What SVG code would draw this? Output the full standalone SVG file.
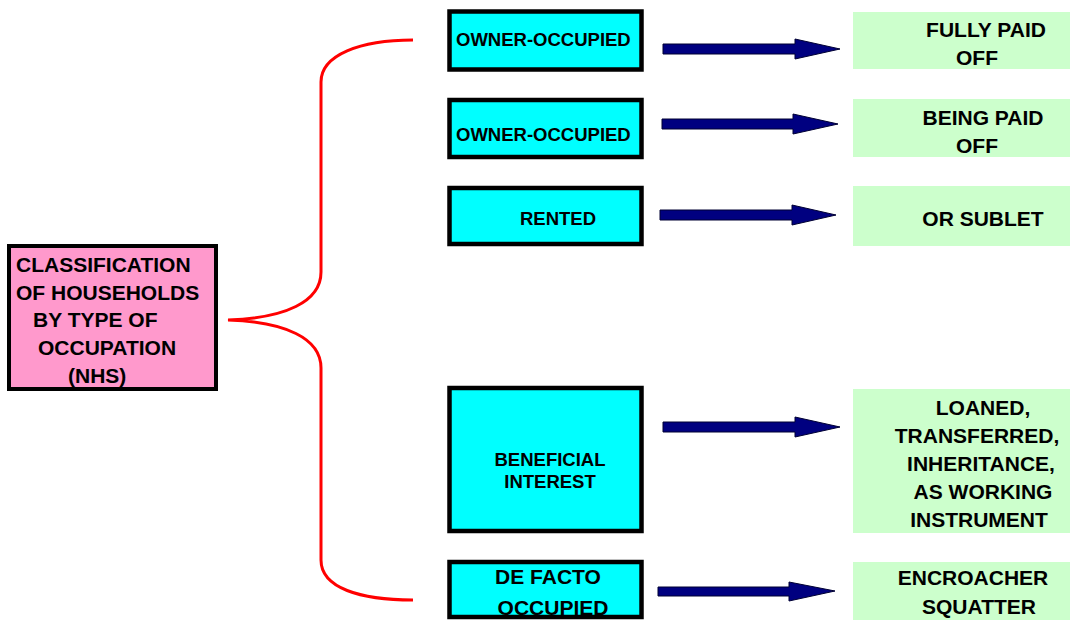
<svg xmlns="http://www.w3.org/2000/svg" width="1072" height="620" viewBox="0 0 1072 620">
<style>
text{font-family:"Liberation Sans",Arial,sans-serif;font-weight:bold;fill:#000}
.c{fill:#00FFFF;stroke:#000;stroke-width:4.5}
.g{fill:#CCFFCC}
.p{fill:#FF99CC;stroke:#000;stroke-width:4}
.a{fill:#000080;stroke:#000033;stroke-width:1}
.t18{font-size:18.5px}
.t20{font-size:21px}
.m{text-anchor:middle}
</style>
<rect width="1072" height="620" fill="#fff"/>
<g id="root">
<rect class="p" x="9" y="246" width="207" height="143"/>
<text class="t20" x="16" y="272">CLASSIFICATION</text>
<text class="t20" x="16" y="300">OF HOUSEHOLDS</text>
<text class="t20" x="33" y="327">BY TYPE OF</text>
<text class="t20" x="38" y="355">OCCUPATION</text>
<text class="t20" x="68" y="383">(NHS)</text>
</g>
<g id="owner1">
<rect class="c" x="449.5" y="11.5" width="192" height="58"/>
<text class="t18" x="456" y="46">OWNER-OCCUPIED</text>
</g>
<g id="owner2">
<rect class="c" x="449.5" y="100" width="192" height="57"/>
<text class="t18" x="456" y="141">OWNER-OCCUPIED</text>
</g>
<g id="rented">
<rect class="c" x="449.5" y="188" width="192" height="56"/>
<text class="t18 m" x="558" y="225">RENTED</text>
</g>
<g id="beneficial">
<rect class="c" x="449.5" y="388" width="192" height="143"/>
<text class="t18 m" x="550" y="466">BENEFICIAL</text>
<text class="t18 m" x="550" y="488">INTEREST</text>
</g>
<g id="defacto">
<rect class="c" x="449.5" y="562" width="192" height="55"/>
<text class="t20 m" x="548" y="584">DE FACTO</text>
<text class="t20 m" x="553" y="615">OCCUPIED</text>
</g>
<g id="fully">
<rect class="g" x="853" y="12" width="217" height="57"/>
<text class="t20 m" x="986" y="37">FULLY PAID</text>
<text class="t20 m" x="977" y="65">OFF</text>
</g>
<g id="being">
<rect class="g" x="853" y="99" width="217" height="58"/>
<text class="t20 m" x="983" y="125">BEING PAID</text>
<text class="t20 m" x="977" y="153">OFF</text>
</g>
<g id="sublet">
<rect class="g" x="853" y="186" width="217" height="60"/>
<text class="t20 m" x="983" y="226">OR SUBLET</text>
</g>
<g id="loaned">
<rect class="g" x="853" y="389" width="217" height="144"/>
<text class="t20 m" x="983" y="415">LOANED,</text>
<text class="t20 m" x="977" y="443">TRANSFERRED,</text>
<text class="t20 m" x="981" y="471">INHERITANCE,</text>
<text class="t20 m" x="983" y="499">AS WORKING</text>
<text class="t20 m" x="979" y="527">INSTRUMENT</text>
</g>
<g id="encroacher">
<rect class="g" x="853" y="562" width="217" height="58"/>
<text class="t20 m" x="973" y="585">ENCROACHER</text>
<text class="t20 m" x="979" y="614">SQUATTER</text>
</g>
<g id="connectors">
<path d="M413,40 C360,40 321,55 321,82 L321,272 C321,302 285,318 228,320 C285,322 321,338 321,368 L321,560 C321,588 360,600 413,600" fill="none" stroke="#FF0000" stroke-width="3"/>
<polygon class="a" points="663,44 795,44 795,39 840,49 795,59 795,54 663,54"/>
<polygon class="a" points="662,119 793,119 793,114 838,124 793,134 793,129 662,129"/>
<polygon class="a" points="660,210 792,210 792,205 836,215 792,225 792,220 660,220"/>
<polygon class="a" points="663,422 795,422 795,417 840,427 795,437 795,432 663,432"/>
<polygon class="a" points="658,587 789,587 789,582 835,591 789,601 789,596 658,596"/>
</g>
</svg>
